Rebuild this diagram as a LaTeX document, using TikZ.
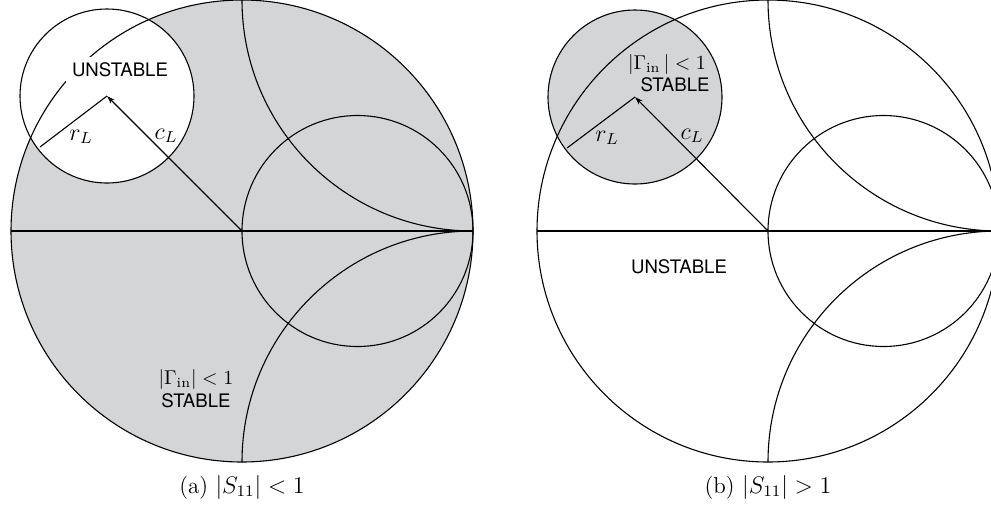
\documentclass[tikz,border=0pt]{standalone}
\usepackage{fontspec}
\newfontfamily\hv{TeX Gyre Heros}
\usetikzlibrary{arrows.meta}
\definecolor{chartgray}{RGB}{212,213,215}
\begin{document}
\begin{tikzpicture}[x=0.5pt,y=-0.5pt,
  chartline/.style={line width=0.55pt,draw=black},
  sanslabel/.style={font=\hv\fontsize{9.3}{10}\selectfont,inner sep=0pt},
  mathlabel/.style={font=\fontsize{10}{11}\selectfont,inner sep=0pt},
  rclabel/.style={font=\fontsize{12}{13}\selectfont,inner sep=0pt},
  caplabel/.style={font=\fontsize{11.5}{13}\selectfont,inner sep=0pt},
  cvec/.style={chartline,-{Stealth[length=4pt,width=2.6pt]}}]
\useasboundingbox (0,0) rectangle (991,505);
\clip (0,0) rectangle (991,505);
% ---------------- left chart (a)
\coordinate (Lc) at (242,231);
\coordinate (Ls) at (107,96);
\coordinate (Lr) at (40,147);
\coordinate (Lw) at (11,231);
\coordinate (Le) at (473,231);
\fill[chartgray] (Lc) circle[radius=231];
\fill[white] (Ls) circle[radius=87];
\begin{scope}
  \clip (Lc) circle[radius=231];
  \draw[chartline] (473,0) circle[radius=231];
  \draw[chartline] (473,462) circle[radius=231];
\end{scope}
\draw[chartline] (357.5,231) circle[radius=115.5];
\draw[chartline] (Lw) -- (Le);
\draw[chartline] (Lc) circle[radius=231];
\draw[chartline] (Ls) circle[radius=87];
\draw[chartline] (Ls) -- (Lr);
\draw[cvec] (Lc) -- (Ls);
\node[sanslabel,fill=white,inner sep=3pt] (Lunst) at (120,70) {UNSTABLE};
\node[rclabel] (LrL) at (81,137) {$r_L$};
\node[rclabel] (LcL) at (166,136) {$c_L$};
\node[mathlabel] (Lgam) at (196,379) {$|\Gamma_{\mathrm{in}}| < 1$};
\node[sanslabel] (Lstab) at (196,401) {STABLE};
\node[caplabel] (Lcap) at (242,487) {(a) $|S_{11}| < 1$};
% ---------------- right chart (b)
\coordinate (Rc) at (768,231);
\coordinate (Rs) at (635,97);
\coordinate (Rr) at (567,148);
\coordinate (Rw) at (537,231);
\coordinate (Re) at (999,231);
\fill[chartgray] (Rs) circle[radius=87];
\begin{scope}
  \clip (Rc) circle[radius=231];
  \draw[chartline] (999,0) circle[radius=231];
  \draw[chartline] (999,462) circle[radius=231];
\end{scope}
\draw[chartline] (883.5,231) circle[radius=115.5];
\draw[chartline] (Rw) -- (Re);
\draw[chartline] (Rc) circle[radius=231];
\draw[chartline] (Rs) circle[radius=87];
\draw[chartline] (Rs) -- (Rr);
\draw[cvec] (Rc) -- (Rs);
\node[mathlabel] (Rgam) at (667,64) {$|\Gamma_{\mathrm{in}}\,| < 1$};
\node[sanslabel] (Rstab) at (675,85) {STABLE};
\node[sanslabel] (Runst) at (679,267) {UNSTABLE};
\node[rclabel] (RrL) at (607,138) {$r_L$};
\node[rclabel] (RcL) at (692,136) {$c_L$};
\node[caplabel] (Rcap) at (768,487) {(b) $|S_{11}| > 1$};
\end{tikzpicture}
\end{document}
